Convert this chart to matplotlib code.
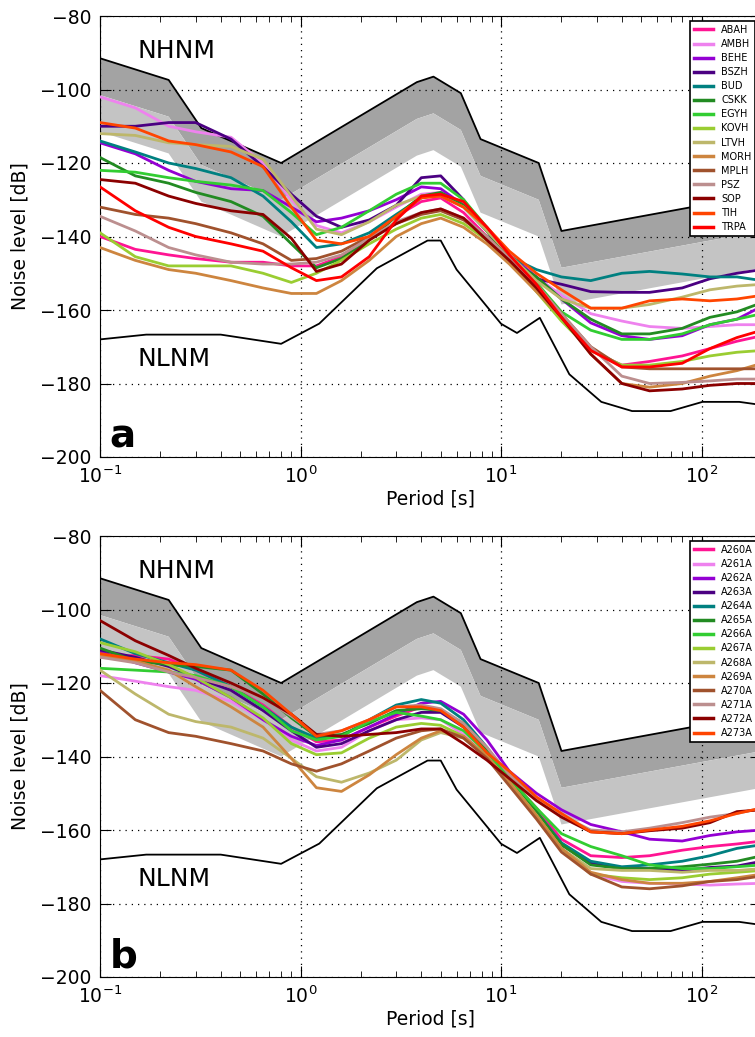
import matplotlib
matplotlib.use('Agg')
import matplotlib.pyplot as plt

# periods of the station curves [s]
period = [0.1, 0.15, 0.22, 0.3, 0.45, 0.65, 0.9, 1.2, 1.6, 2.2, 3.0, 4.0, 5.0,
          6.5, 8.5, 11, 15, 20, 28, 40, 55, 80, 110, 150, 200]

# Peterson NHNM / NLNM breakpoints
nhnm_period = [0.1, 0.22, 0.32, 0.8, 3.8, 4.6, 6.3, 7.9, 15.4, 20, 354.8, 1000]
nhnm_db = [-91.5, -97.4, -110.5, -120.0, -98.0, -96.5, -101.0, -113.5, -120.0, -138.5, -126.0, -111.8]
nlnm_period = [0.1, 0.17, 0.4, 0.8, 1.24, 2.4, 4.3, 5.0, 6.0, 10.0, 12.0, 15.6, 21.9, 31.6,
               45, 70, 101, 154, 328, 600, 1000]
nlnm_db = [-168.0, -166.7, -166.7, -169.2, -163.7, -148.65, -141.1, -141.1, -149.0, -163.75,
           -166.25, -162.13, -177.5, -185.0, -187.5, -187.5, -185.0, -185.0, -187.5, -184.4, -178.5]

colors = ['#ff1493', '#ee82ee', '#9400d3', '#4b0082', '#008080', '#228b22', '#32cd32',
          '#9acd32', '#bdb76b', '#cd853f', '#a0522d', '#bc8f8f', '#8b0000', '#ff4500', '#ff0000']

# panel a: permanent stations
names_a = ['ABAH', 'AMBH', 'BEHE', 'BSZH', 'BUD', 'CSKK', 'EGYH', 'KOVH', 'LTVH',
           'MORH', 'MPLH', 'PSZ', 'SOP', 'TIH', 'TRPA']
ABAH = [-140, -143.5, -145, -146, -147, -147, -148, -148, -145.5, -140, -134.5, -130.5, -129.5,
        -133.5, -140, -146, -153, -162, -171, -175, -174, -172.5, -170.5, -168.5, -167]
AMBH = [-102, -105, -110, -111.5, -113, -120, -130, -137, -139, -136, -132, -128.5, -128,
        -131, -137.5, -145, -151, -156, -161, -163, -164.5, -165, -164.5, -164, -164]
BEHE = [-114.5, -117.5, -122, -125, -127, -127.5, -132, -136, -135, -133, -130, -126.5, -127,
        -131.5, -138.5, -145, -151, -157, -163.5, -167, -168, -167, -164, -162.5, -159]
BSZH = [-110, -110, -109, -109, -113.5, -121, -128.5, -134.5, -137.5, -135.5, -131.5, -124, -123.5,
        -130, -138.5, -147, -151.5, -153, -155, -155.2, -155.2, -154, -151.5, -150, -149]
BUD = [-114, -117, -120, -121.5, -124, -129, -136, -143, -142, -139, -134, -129.5, -128.5,
       -132, -138.5, -145.5, -149, -151, -152, -150, -149.5, -150.2, -151, -151, -152]
CSKK = [-118.5, -123.5, -125.5, -128, -130.5, -134.5, -142, -148.5, -146, -141, -134.5, -129, -128,
        -131.5, -138.5, -146, -151, -157, -162.5, -166.5, -166.5, -165, -162, -160.5, -158]
EGYH = [-122, -122.5, -124, -125, -126, -127.5, -133.5, -139.5, -137.5, -133, -128.5, -125.5, -125.5,
        -130, -137.5, -145, -152.5, -160.5, -165.5, -168, -168, -166.5, -164, -162.5, -161]
KOVH = [-139, -145.5, -148, -148, -148, -150, -152.5, -150, -146.5, -142, -138, -135, -134,
        -136.5, -141, -146.5, -155, -163, -171, -175, -175, -174, -172.5, -171.5, -171]
LTVH = [-112, -112.5, -114.5, -115, -115.5, -119, -129, -138, -139.5, -136, -131.5, -129, -129,
        -132, -138.5, -145, -152, -157, -159.5, -159.5, -158.5, -156.5, -154.5, -153.5, -153]
MORH = [-143, -146.5, -149, -150, -152, -154, -155.5, -155.5, -152, -146.5, -140, -136.5, -135,
        -137.5, -142, -147.5, -155, -162, -172, -180, -181, -180, -178, -176.5, -174.5]
MPLH = [-132, -134, -135, -136.5, -139, -142, -146.5, -146, -144, -140, -136.5, -134, -133,
        -135.5, -140, -146, -153, -161, -170, -175.5, -176, -176, -176, -176, -176]
PSZ = [-134.5, -138.5, -143, -145, -147, -147.5, -147.5, -147, -145, -140.5, -136, -133.5, -132.5,
       -135, -140, -146, -153, -161, -170, -178, -180, -179.7, -179.3, -178.8, -178.8]
SOP = [-124.5, -125.5, -129, -131, -133, -134, -140.5, -149.5, -147.5, -141, -136.5, -133.5, -132.5,
       -135, -141, -146.5, -154, -162, -172, -180, -182, -181.5, -180.5, -180, -180]
TIH = [-109, -110.5, -114, -115, -117, -121, -132, -141, -142, -140, -134.5, -129.5, -129,
       -132, -137.5, -144, -150, -154.5, -159.5, -159.5, -157.5, -157, -157.5, -157, -156]
TRPA = [-126.5, -133, -137.5, -140, -142, -144, -148.5, -152, -151, -145.5, -135.5, -129, -128.5,
        -130.5, -137.5, -145, -153, -162, -171, -175.5, -175.5, -174.5, -170.5, -167.5, -165.5]
curves_a = [ABAH, AMBH, BEHE, BSZH, BUD, CSKK, EGYH, KOVH, LTVH, MORH, MPLH, PSZ, SOP, TIH, TRPA]

# panel b: temporary stations
names_b = ['A260A', 'A261A', 'A262A', 'A263A', 'A264A', 'A265A', 'A266A', 'A267A',
           'A268A', 'A269A', 'A270A', 'A271A', 'A272A', 'A273A']
A260A = [-113, -112.5, -113.5, -116.5, -121, -126, -132, -136, -135.5, -132, -129, -126.5, -127.5,
         -131.5, -138, -146, -154, -162.5, -167, -167.5, -167, -165.5, -164.5, -163.8, -163]
A261A = [-118, -119.5, -121, -122, -125, -130, -135.5, -138.5, -137.5, -133, -130, -129.5, -130,
         -134, -140, -147, -156, -165, -172, -174, -174.5, -174.7, -175, -174.7, -174.5]
A262A = [-111.5, -114.5, -117, -119, -124, -130, -134.5, -137, -135.5, -132, -128.5, -125.5, -125,
         -128.5, -135.5, -144, -150, -154.5, -158.5, -160.5, -162.5, -163, -161.5, -160.5, -160]
A263A = [-111, -113, -115.5, -118.5, -122, -127.5, -133, -137.5, -136.5, -133, -130, -128, -128,
         -132, -139, -147, -156, -164, -169, -170.5, -170.5, -171, -170.2, -169.8, -168.5]
A264A = [-108, -112, -114.5, -116.5, -121, -126.5, -132, -135, -134.5, -130, -126, -124.5, -125.5,
         -130, -137.5, -146, -155, -163.5, -168.5, -170, -169.5, -168.5, -167, -165, -164]
A265A = [-110.5, -114, -115, -115.5, -116.5, -123, -129.5, -134.5, -134, -131, -127.5, -127, -127.5,
         -131, -138, -146, -155, -164, -169.5, -170.5, -170.5, -170, -169.3, -168.5, -167]
A266A = [-116, -116.5, -117, -118, -121, -126.5, -133, -135.5, -134.5, -130.5, -128, -129, -130,
         -133, -139, -146, -154, -161, -164.5, -167, -169.5, -170.5, -170.5, -170, -169.5]
A267A = [-109, -111.5, -115, -118.5, -124, -129.5, -136.5, -139.5, -139, -135, -132, -131, -131.5,
         -134.5, -140, -147, -156, -165, -172, -173, -173.5, -173, -172, -171.5, -171]
A268A = [-116.5, -123, -128.5, -130.5, -132, -135, -140.5, -145.5, -147, -144.5, -141, -135.5, -133.5,
         -135, -140, -147, -156, -165, -170.5, -171, -171, -171.5, -171, -171, -170.5]
A269A = [-112.5, -114, -116.5, -121, -126.5, -132, -140.5, -148.5, -149.5, -145, -139.5, -135, -133,
         -134.5, -140, -147, -156, -165, -171.5, -173.5, -174.5, -174.5, -174, -173, -172]
A270A = [-122, -130, -133.5, -134.5, -136.5, -138.5, -142, -144, -142, -138.5, -135, -133, -132.5,
         -135, -140.5, -148, -157, -166, -172, -175.5, -176, -175.2, -174, -173.5, -172.5]
A271A = [-113, -114.5, -117, -118.5, -121, -124, -129, -134, -133, -130, -126.5, -126, -127,
         -131, -137.5, -145, -151.5, -156, -160, -160.5, -159.5, -158, -156.5, -155.5, -154]
A272A = [-103, -108.5, -112.5, -116, -120, -124, -128.5, -134, -134.5, -134, -133.5, -132.5, -132.5,
         -136.5, -141, -146, -152, -156.5, -160.5, -161, -160.2, -159.5, -158, -155, -154.5]
A273A = [-112, -113.5, -114.5, -115, -116.5, -122, -128.5, -134.5, -133, -130, -126.5, -126.5, -127.5,
         -132, -139, -144, -151, -155.5, -160.5, -161, -160, -159, -157.5, -155.5, -154]
curves_b = [A260A, A261A, A262A, A263A, A264A, A265A, A266A, A267A, A268A, A269A,
            A270A, A271A, A272A, A273A]

plt.rcParams['font.family'] = ['DejaVu Sans']

fig = plt.figure(figsize=(7.55, 10.37), dpi=100)


def panel(rect, names, curves, letter, leg_top):
    ax = fig.add_axes(rect)
    # grey bands below the NHNM (10 dB and 20 dB)
    low10 = [v - 10 for v in nhnm_db]
    low20 = [v - 20 for v in nhnm_db]
    ax.fill_between(nhnm_period, low10, nhnm_db, color='#a3a3a3', linewidth=0, zorder=1)
    ax.fill_between(nhnm_period, low20, low10, color='#c4c4c4', linewidth=0, zorder=1)
    ax.plot(nhnm_period, nhnm_db, color='black', linewidth=1.3, zorder=2)
    ax.plot(nlnm_period, nlnm_db, color='black', linewidth=1.3, zorder=2)
    # station curves
    for name, vals, c in zip(names, curves, colors):
        ax.plot(period, vals, color=c, linewidth=2.0, label=name, zorder=3)
    ax.set_xscale('log')
    ax.set_xlim(0.1, 200)
    ax.set_ylim(-200, -80)
    ax.set_yticks(range(-200, -79, 20))
    ax.grid(True, which='major', color='black', linestyle=(0, (1, 4)), linewidth=0.9)
    ax.tick_params(which='both', direction='in', top=True, right=True, labelsize=13.5, pad=6)
    ax.tick_params(which='major', length=8)
    ax.tick_params(which='minor', length=4)
    ax.set_xlabel('Period [s]', fontsize=13.5, labelpad=2)
    ax.set_ylabel('Noise level [dB]', fontsize=13.5, labelpad=8)
    # labels for the noise models
    ax.text(0.153, -89.5, 'NHNM', fontsize=18, ha='left', va='center')
    ax.text(0.153, -173.3, 'NLNM', fontsize=18, ha='left', va='center')
    ax.text(0.112, -197.3, letter, fontsize=28, fontweight='bold', va='baseline')
    leg = ax.legend(loc='upper left', bbox_to_anchor=(690 / 755, leg_top),
                    bbox_transform=fig.transFigure, borderaxespad=0, fontsize=7,
                    fancybox=False, framealpha=1, edgecolor='black', handlelength=2.0,
                    labelspacing=0.42, borderpad=0.4, handletextpad=0.8)
    for line in leg.get_lines():
        line.set_linewidth(2.5)
    leg.get_frame().set_linewidth(1.2)
    return ax


ax_w = 662 / 755
panel([100 / 755, (1037 - 457) / 1037, ax_w, 441 / 1037], names_a, curves_a, 'a', 1 - 21 / 1037)
panel([100 / 755, (1037 - 977) / 1037, ax_w, 441 / 1037], names_b, curves_b, 'b', 1 - 541 / 1037)

plt.savefig('out.png', dpi=100)
